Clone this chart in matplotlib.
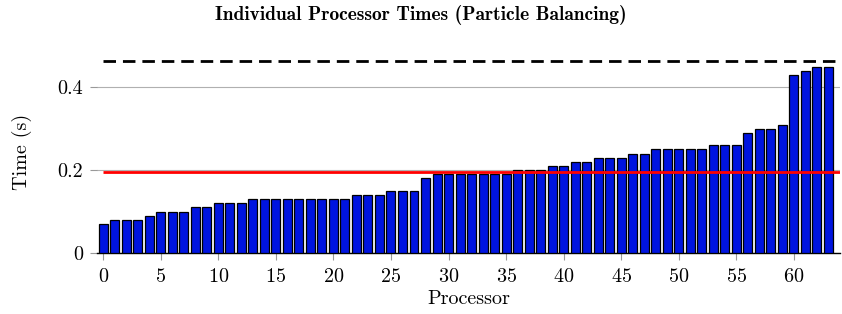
import numpy as np
import matplotlib
matplotlib.use("Agg")
import matplotlib.pyplot as plt

plt.rcParams['font.family'] = ['cmr10', 'DejaVu Serif']
plt.rcParams['axes.formatter.use_mathtext'] = True

title = "Individual Processor Times (Particle Balancing)"
times = [0.07, 0.08, 0.08, 0.08, 0.09, 0.10, 0.10, 0.10, 0.11, 0.11,
         0.12, 0.12, 0.12, 0.13, 0.13, 0.13, 0.13, 0.13, 0.13, 0.13,
         0.13, 0.13, 0.14, 0.14, 0.14, 0.15, 0.15, 0.15, 0.18, 0.19,
         0.19, 0.19, 0.19, 0.19, 0.19, 0.19, 0.20, 0.20, 0.20, 0.21,
         0.21, 0.22, 0.22, 0.23, 0.23, 0.23, 0.24, 0.24, 0.25, 0.25,
         0.25, 0.25, 0.25, 0.26, 0.26, 0.26, 0.29, 0.30, 0.30, 0.31,
         0.43, 0.44, 0.45, 0.45]
limit_time = 0.463
xticks = [0, 5, 10, 15, 20, 25, 30, 35, 40, 45, 50, 55, 60]
yticks = [0, 0.2, 0.4]
ytick_labels = ["0", "0.2", "0.4"]

procs = np.arange(len(times))
mean_time = np.mean(times)

fig = plt.figure(figsize=(8.42, 3.14), dpi=100)
ax = fig.add_axes([0.115, 0.194, 0.8826, 0.647])

ax.bar(procs, times, width=0.78, color='#0014e0', edgecolor='black', linewidth=0.9, zorder=3)
# reference lines span the processor range, not the full axis
ax.hlines(mean_time, 0, len(times), color='red', linewidth=2, zorder=4)
ax.hlines(limit_time, 0, len(times), color='black', linestyle=(0, (4.5, 2.5)), linewidth=2, zorder=4)

ax.set_xlim(-0.55, 64.0)
ax.set_ylim(0, 0.49)
ax.set_xticks(xticks)
ax.set_yticks(yticks)
ax.set_yticklabels(ytick_labels)
ax.yaxis.grid(True, color='#b0b0b0', linewidth=0.8, zorder=0)

for s in ['top', 'right', 'left']:
    ax.spines[s].set_visible(False)
ax.spines['bottom'].set_linewidth(1.0)
ax.tick_params(axis='both', colors='#999999', labelcolor='black', labelsize=14.5, length=5)
ax.tick_params(axis='x', pad=6)
ax.tick_params(axis='y', pad=5)

ax.set_xlabel("Processor", fontsize=14.5, labelpad=3)
ax.set_ylabel("Time (s)", fontsize=14.5, labelpad=18)
fig.text(0.5, 0.952, title, fontsize=14, fontfamily=['cmb10', 'DejaVu Serif'],
         ha='center', va='center')

fig.savefig("out.png", dpi=100)
